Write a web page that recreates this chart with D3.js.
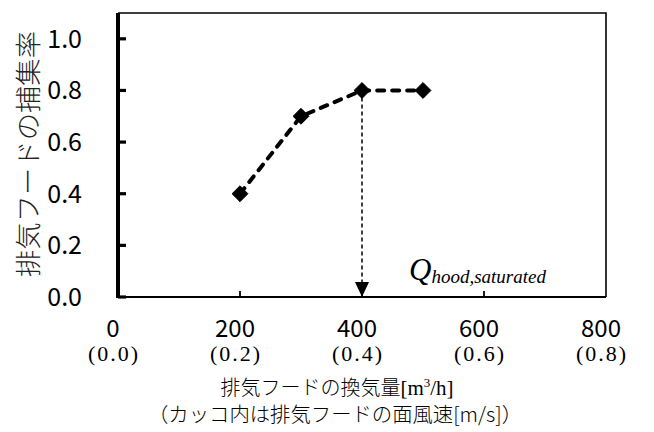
<!DOCTYPE html>
<html>
<head>
<meta charset="utf-8">
<script src="https://cdn.jsdelivr.net/npm/d3@7"></script>
<style>
  html,body{margin:0;padding:0;background:#fff}
  svg{display:block}
  .sans{font-family:"Noto Sans CJK JP","Noto Sans",sans-serif}
  .serif{font-family:"Liberation Serif","DejaVu Serif",serif}
</style>
</head>
<body>
<svg id="chart"></svg>
<script>
'use strict';

/* ─────────────────────────────────────────────────────────
   DATA
───────────────────────────────────────────────────────── */
const flowRates = [200, 300, 400, 500];
const captureRates = [0.4, 0.7, 0.8, 0.8];

const xTicks = [0, 200, 400, 600, 800];
const xTickSub = ['(0.0)', '(0.2)', '(0.4)', '(0.6)', '(0.8)'];
const yTicks = [0, 0.2, 0.4, 0.6, 0.8, 1.0];

const saturatedFlow = 400;

/* ─────────────────────────────────────────────────────────
   SETUP
───────────────────────────────────────────────────────── */
const W = 654, H = 432;
const m = {left:118, right:48, top:13, bottom:135};

const svg = d3.select('#chart').attr('width', W).attr('height', H);

const x = d3.scaleLinear().domain([0, 800]).range([m.left, W - m.right]);
const y = d3.scaleLinear().domain([0, 1.1]).range([H - m.bottom, m.top]);

/* frame (top + right thin) */
svg.append('path')
  .attr('d', `M${x(0)},${y(1.1)}H${x(800)}V${y(0)}`)
  .attr('fill', 'none').attr('stroke', '#000').attr('stroke-width', 1.6);

/* x axis */
svg.append('line')
  .attr('x1', x(0)).attr('x2', x(800)).attr('y1', y(0)).attr('y2', y(0))
  .attr('stroke', '#000').attr('stroke-width', 2.2);

svg.selectAll('.xtick')
  .data(xTicks.slice(1, -1))
  .enter().append('line')
  .attr('x1', d => x(d)).attr('x2', d => x(d))
  .attr('y1', y(0)).attr('y2', y(0) - 6)
  .attr('stroke', '#000').attr('stroke-width', 1.8);

/* y axis (thick) */
svg.append('line')
  .attr('x1', x(0)).attr('x2', x(0)).attr('y1', y(1.1)).attr('y2', y(0) + 1)
  .attr('stroke', '#000').attr('stroke-width', 4);

svg.selectAll('.ytick')
  .data(yTicks)
  .enter().append('line')
  .attr('x1', x(0)).attr('x2', x(0) + 8)
  .attr('y1', d => y(d)).attr('y2', d => y(d))
  .attr('stroke', '#000').attr('stroke-width', 3.2);

/* tick labels */
svg.selectAll('.ylab')
  .data(yTicks)
  .enter().append('text')
  .attr('class', 'sans')
  .attr('x', 82).attr('y', d => y(d) + 9)
  .attr('text-anchor', 'end')
  .attr('font-size', 25)
  .text(d => d.toFixed(1));

svg.selectAll('.xlab')
  .data(xTicks)
  .enter().append('text')
  .attr('class', 'sans')
  .attr('x', d => x(d) - 5).attr('y', 337)
  .attr('text-anchor', 'middle')
  .attr('font-size', 24)
  .text(d => d);

svg.selectAll('.xsub')
  .data(xTicks)
  .enter().append('text')
  .attr('class', 'serif')
  .attr('x', d => x(d) - 5).attr('y', 361)
  .attr('text-anchor', 'middle')
  .attr('font-size', 22)
  .attr('textLength', 50)
  .attr('lengthAdjust', 'spacing')
  .text((d, i) => xTickSub[i]);

/* ─────────────────────────────────────────────────────────
   SERIES
───────────────────────────────────────────────────────── */
const pts = flowRates.map((f, i) => [f, captureRates[i]]);
const satY = captureRates[flowRates.indexOf(saturatedFlow)];

/* saturation drop line + arrow */
svg.append('line')
  .attr('x1', x(saturatedFlow)).attr('x2', x(saturatedFlow))
  .attr('y1', y(satY)).attr('y2', y(0) - 12)
  .attr('stroke', '#000').attr('stroke-width', 1.5)
  .attr('stroke-dasharray', '4,3');

svg.append('path')
  .attr('d', `M${x(saturatedFlow) - 7},${y(0) - 15}H${x(saturatedFlow) + 7}L${x(saturatedFlow)},${y(0)}Z`)
  .attr('fill', '#000');

svg.append('path')
  .datum(pts)
  .attr('d', d3.line().x(d => x(d[0])).y(d => y(d[1])))
  .attr('fill', 'none').attr('stroke', '#000').attr('stroke-width', 4)
  .attr('stroke-linecap', 'round')
  .attr('stroke-dasharray', '7,8');

svg.selectAll('.pt')
  .data(pts)
  .enter().append('path')
  .attr('d', d3.symbol(d3.symbolDiamond2, 160))
  .attr('transform', d => `translate(${x(d[0])},${y(d[1])})`)
  .attr('fill', '#000')
  .attr('stroke', '#000').attr('stroke-width', 1).attr('stroke-linejoin', 'round');

/* Q label */
const q = svg.append('text')
  .attr('class', 'serif')
  .attr('x', 409).attr('y', 280)
  .attr('font-style', 'italic');
q.append('tspan').attr('font-size', 31).text('Q');
q.append('tspan').attr('font-size', 19).attr('dy', 3).text('hood,saturated');

/* ─────────────────────────────────────────────────────────
   AXIS TITLES
───────────────────────────────────────────────────────── */
svg.append('text')
  .attr('class', 'sans')
  .attr('transform', 'translate(38,154) rotate(-90)')
  .attr('text-anchor', 'middle')
  .attr('font-size', 26)
  .attr('font-weight', 300)
  .attr('fill', '#222')
  .attr('textLength', 246)
  .attr('lengthAdjust', 'spacingAndGlyphs')
  .text('排気フードの捕集率');

const t1 = svg.append('text')
  .attr('class', 'sans')
  .attr('x', 337).attr('y', 395)
  .attr('text-anchor', 'middle')
  .attr('font-size', 20)
  .attr('font-weight', 300);
t1.append('tspan').text('排気フードの換気量');
t1.append('tspan').attr('class', 'serif').attr('font-size', 21).text('[m');
t1.append('tspan').attr('class', 'serif').attr('font-size', 13).attr('dy', -8).text('3');
t1.append('tspan').attr('class', 'serif').attr('font-size', 21).attr('dy', 8).text('/h]');

svg.append('text')
  .attr('class', 'sans')
  .attr('x', 335).attr('y', 422)
  .attr('text-anchor', 'middle')
  .attr('font-size', 20)
  .attr('font-weight', 300)
  .attr('textLength', 374)
  .attr('lengthAdjust', 'spacingAndGlyphs')
  .text('（カッコ内は排気フードの面風速[m/s]）');
</script>
</body>
</html>
